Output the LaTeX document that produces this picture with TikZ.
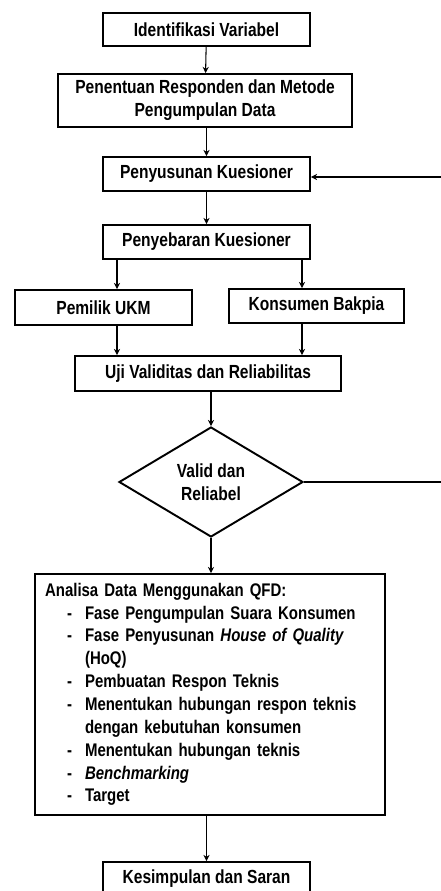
\documentclass[tikz,border=0pt]{standalone}
\usepackage{fontspec}
\setmainfont{Liberation Sans}[FakeStretch=0.82]
\usetikzlibrary{shapes.geometric,arrows.meta}
\begin{document}
\begin{tikzpicture}[x=0.02cm,y=-0.02cm,
  txt/.style={font=\fontsize{10.8}{13}\selectfont\bfseries},
  box/.style={draw,line width=1.1pt,inner sep=0pt,txt,align=center},
  arr/.style={line width=0.6pt,-{Stealth[length=3.5pt,width=3.5pt]}},
  ln/.style={line width=0.6pt}]
\useasboundingbox[fill=white] (0,0) rectangle (440,891);
\node[box,minimum width=4.14cm,minimum height=0.66cm] (b1) at (206.5,29.5) {Identifikasi Variabel};
\node[box,minimum width=5.88cm,minimum height=1.06cm] (b2) at (205,100.5) {Penentuan Responden dan Metode\\Pengumpulan Data};
\node[box,minimum width=4.14cm,minimum height=0.68cm] (b3) at (206.5,174) {Penyusunan Kuesioner};
\node[box,minimum width=4.14cm,minimum height=0.68cm] (b4) at (206.5,242) {Penyebaran Kuesioner};
\node[box,minimum width=3.54cm,minimum height=0.70cm] (b5) at (103.5,307.5) {Pemilik UKM};
\node[box,minimum width=3.50cm,minimum height=0.68cm] (b6) at (316.5,306) {Konsumen Bakpia};
\node[box,minimum width=5.32cm,minimum height=0.70cm] (b7) at (208,373.5) {Uji Validitas dan Reliabilitas};
\node[box,diamond,minimum width=3.68cm,minimum height=2.2cm] (dia) at (211,482) {Valid dan\\Reliabel};
\node[box,minimum width=7.0cm,minimum height=4.82cm,text width=6.6cm,align=left,font=\fontsize{10.4}{13}\selectfont\bfseries] (qfd) at (210,694.5) {%
\def\arraystretch{1}%
\begin{tabular}{@{}p{0.44cm}@{}p{0.36cm}@{}l@{}}
\multicolumn{3}{@{}l@{}}{Analisa Data Menggunakan QFD:}\\
& - & Fase Pengumpulan Suara Konsumen\\
& - & Fase Penyusunan \textit{House of Quality}\\
&   & (HoQ)\\
& - & Pembuatan Respon Teknis\\
& - & Menentukan hubungan respon teknis\\
&   & dengan kebutuhan konsumen\\
& - & Menentukan hubungan teknis\\
& - & \textit{Benchmarking}\\
& - & Target
\end{tabular}};
\node[box,minimum width=4.14cm,minimum height=0.68cm] (b9) at (206.5,879) {Kesimpulan dan Saran};
\coordinate (xL) at (117,0);
\coordinate (xR) at (302,0);
\coordinate (fbR) at (470,0);
\coordinate (fbY) at (0,177);
\draw[arr] (b1) -- (b2);
\draw[arr] (b2.south -| b3) -- (b3);
\draw[arr] (b3) -- (b4);
\draw[arr] (b4.south -| xL) -- (b5.north -| xL);
\draw[arr] (b4.south -| xR) -- (b6.north -| xR);
\draw[arr] (b5.south -| xL) -- (b7.north -| xL);
\draw[arr] (b6.south -| xR) -- (b7.north -| xR);
\draw[arr] (b7.south -| dia) -- (dia.north);
\draw[arr] (dia.south) -- (qfd.north -| dia);
\draw[arr] (qfd.south -| b9) -- (b9.north);
\draw[arr] (dia.east) -- (dia.east -| fbR) -- (fbR |- fbY) -- (b3.east |- fbY);
\end{tikzpicture}
\end{document}
